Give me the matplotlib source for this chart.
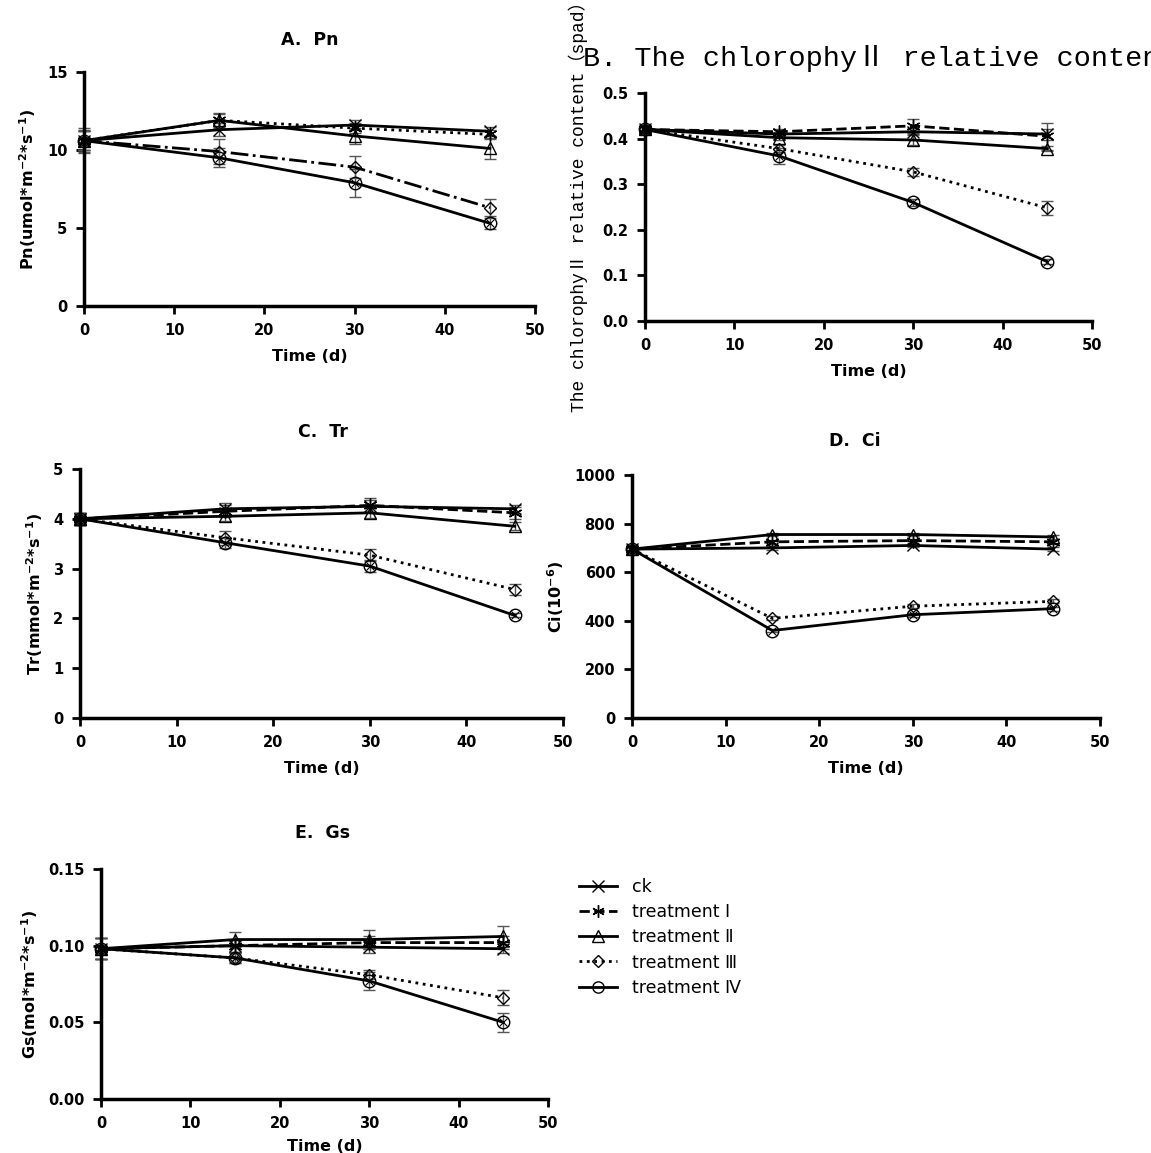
import matplotlib
matplotlib.use('Agg')
import matplotlib.pyplot as plt
from matplotlib.lines import Line2D

plt.rcParams['font.family'] = ['DejaVu Sans', 'Noto Sans CJK SC']
plt.rcParams['mathtext.default'] = 'bf'

days = [0, 15, 30, 45]
series_names = ['ck', 'treatment Ⅰ', 'treatment Ⅱ', 'treatment Ⅲ', 'treatment Ⅳ']

# A. Pn
pn_ck = [10.6, 11.3, 11.6, 11.2]
pn_t1 = [10.6, 11.9, 11.4, 11.0]
pn_t2 = [10.6, 11.9, 10.9, 10.1]
pn_t3 = [10.6, 9.9, 8.9, 6.3]
pn_t4 = [10.6, 9.5, 7.9, 5.3]
pn_err = [[0.8, 0.4, 0.3, 0.3], [0.6, 0.5, 0.3, 0.3], [0.7, 0.4, 0.5, 0.7], [0.6, 0.8, 0.7, 0.55], [0.6, 0.6, 0.9, 0.35]]

# B. chlorophyll relative content
chl_ck = [0.420, 0.410, 0.415, 0.410]
chl_t1 = [0.420, 0.415, 0.428, 0.405]
chl_t2 = [0.420, 0.402, 0.397, 0.378]
chl_t3 = [0.420, 0.378, 0.327, 0.248]
chl_t4 = [0.420, 0.362, 0.260, 0.130]
chl_err = [[0.008, 0.005, 0.008, 0.012], [0.008, 0.006, 0.016, 0.030], [0.008, 0.006, 0.012, 0.006], [0.008, 0.008, 0.009, 0.015], [0.008, 0.018, 0.008, 0.006]]

# C. Tr
tr_ck = [4.0, 4.20, 4.25, 4.20]
tr_t1 = [4.0, 4.15, 4.27, 4.12]
tr_t2 = [4.0, 4.05, 4.12, 3.85]
tr_t3 = [4.0, 3.62, 3.27, 2.58]
tr_t4 = [4.0, 3.52, 3.05, 2.06]
tr_err = [[0.12, 0.12, 0.12, 0.08], [0.12, 0.12, 0.14, 0.12], [0.12, 0.10, 0.10, 0.08], [0.12, 0.14, 0.12, 0.12], [0.12, 0.10, 0.12, 0.04]]

# D. Ci
ci_ck = [695, 700, 710, 695]
ci_t1 = [695, 725, 730, 725]
ci_t2 = [695, 755, 755, 745]
ci_t3 = [695, 410, 460, 480]
ci_t4 = [695, 360, 425, 450]
ci_err = [[8, 8, 8, 8], [8, 8, 8, 8], [8, 8, 8, 8], [8, 8, 8, 8], [8, 8, 8, 8]]

# E. Gs
gs_ck = [0.098, 0.100, 0.099, 0.098]
gs_t1 = [0.098, 0.100, 0.102, 0.102]
gs_t2 = [0.098, 0.104, 0.104, 0.106]
gs_t3 = [0.098, 0.092, 0.081, 0.066]
gs_t4 = [0.098, 0.092, 0.077, 0.050]
gs_err = [[0.007, 0.004, 0.004, 0.003], [0.007, 0.004, 0.004, 0.004], [0.007, 0.005, 0.006, 0.007], [0.007, 0.003, 0.003, 0.005], [0.007, 0.003, 0.006, 0.006]]

W, H = 1151, 1153
fig = plt.figure(figsize=(W / 100, H / 100), dpi=100)

def fr(l, t, r, b):
    return [l / W, 1 - b / H, (r - l) / W, (b - t) / H]

markers = ['x', (6, 2, 0), '^', 'D', 'o']
msizes = [9, 10, 9, 6.5, 9]
std_ls = ['-', '--', '-', ':', '-']

def panel(rect, ys, errs, ylim, yticks, yfmt, ylabel, title, title_xy, ls=std_ls,
          xlabelpad=8, tickpad=6):
    ax = fig.add_axes(fr(*rect))
    for i, (y, e) in enumerate(zip(ys, errs)):
        ax.errorbar(days, y, yerr=e, fmt='none', ecolor='#555555', elinewidth=1.0,
                    capsize=4, capthick=1.0, clip_on=False, zorder=2)
    for i, y in enumerate(ys):
        ax.plot(days, y, color='black', lw=2.0, ls=ls[i],
                marker=markers[i], ms=msizes[i], mfc='none', mec='black', mew=1.0,
                clip_on=False, zorder=3)
        if i == 4:
            ax.plot(days, y, ls='none', marker='x', ms=6, mec='black', mew=0.8,
                    clip_on=False, zorder=4)
    ax.set_xlim(0, 50)
    ax.set_ylim(*ylim)
    ax.set_xticks([0, 10, 20, 30, 40, 50])
    ax.set_yticks(yticks)
    ax.set_yticklabels([yfmt.format(v) for v in yticks])
    for s in ['top', 'right']:
        ax.spines[s].set_visible(False)
    for s in ['left', 'bottom']:
        ax.spines[s].set_linewidth(2.5)
    ax.tick_params(direction='out', length=6, width=2, labelsize=10.5, pad=6)
    ax.tick_params(axis='x', pad=tickpad)
    for lab in ax.get_xticklabels() + ax.get_yticklabels():
        lab.set_fontweight('bold')
    ax.set_xlabel('Time (d)', fontsize=11.5, fontweight='bold', labelpad=xlabelpad)
    if ylabel:
        ax.set_ylabel(ylabel, fontsize=11.5, fontweight='bold', labelpad=6)
    if title:
        fig.text(title_xy[0] / W, 1 - title_xy[1] / H, title, fontsize=12.5,
                 fontweight='bold', ha='center', va='center')
    return ax

panel((84, 72, 535, 306), [pn_ck, pn_t1, pn_t2, pn_t3, pn_t4], pn_err, (0, 15),
      [0, 5, 10, 15], '{:g}', r'Pn(umol*m$^{-2}$*s$^{-1}$)', 'A.  Pn', (310, 40),
      ls=['-', ':', '-', '-.', '-'])

axB = panel((645, 93, 1092, 321), [chl_ck, chl_t1, chl_t2, chl_t3, chl_t4], chl_err, (0, 0.5),
            [0, 0.1, 0.2, 0.3, 0.4, 0.5], '{:.1f}', None, None, None)
fig.text(583 / W, 1 - 58 / H, 'B. The chlorophyⅡ relative content', fontsize=20.5,
         family=['Liberation Mono', 'Noto Sans CJK SC'], ha='left', va='center')
fig.text(578 / W, 1 - 412 / H, 'The chlorophyⅡ relative content（spad）', fontsize=13,
         family=['Liberation Mono', 'Noto Sans CJK SC'], rotation=90, ha='center', va='bottom')

panel((80, 469, 563, 718), [tr_ck, tr_t1, tr_t2, tr_t3, tr_t4], tr_err, (0, 5),
      [0, 1, 2, 3, 4, 5], '{:g}', r'Tr(mmol*m$^{-2}$*s$^{-1}$)', 'C.  Tr', (323, 432))

panel((632, 475, 1100, 718), [ci_ck, ci_t1, ci_t2, ci_t3, ci_t4], ci_err, (0, 1000),
      [0, 200, 400, 600, 800, 1000], '{:g}', r'Ci(10$^{-6}$)', 'D.  Ci', (855, 441))

panel((101, 869, 548, 1099), [gs_ck, gs_t1, gs_t2, gs_t3, gs_t4], gs_err, (0, 0.15),
      [0, 0.05, 0.10, 0.15], '{:.2f}', r'Gs(mol*m$^{-2}$*s$^{-1}$)', 'E.  Gs', (323, 833),
      xlabelpad=6, tickpad=6)

handles = []
for i in range(5):
    h = Line2D([], [], color='black', lw=2.0, ls=std_ls[i], marker=markers[i],
               ms=msizes[i] * 0.9, mfc='none', mec='black', mew=1.0)
    handles.append(h)
fig.legend(handles, series_names, loc='upper left', bbox_to_anchor=(563 / W, 1 - 862 / H),
           frameon=False, fontsize=12.5, handlelength=2.2, labelspacing=0.42, handletextpad=0.9)

fig.savefig('out.png', dpi=100)
